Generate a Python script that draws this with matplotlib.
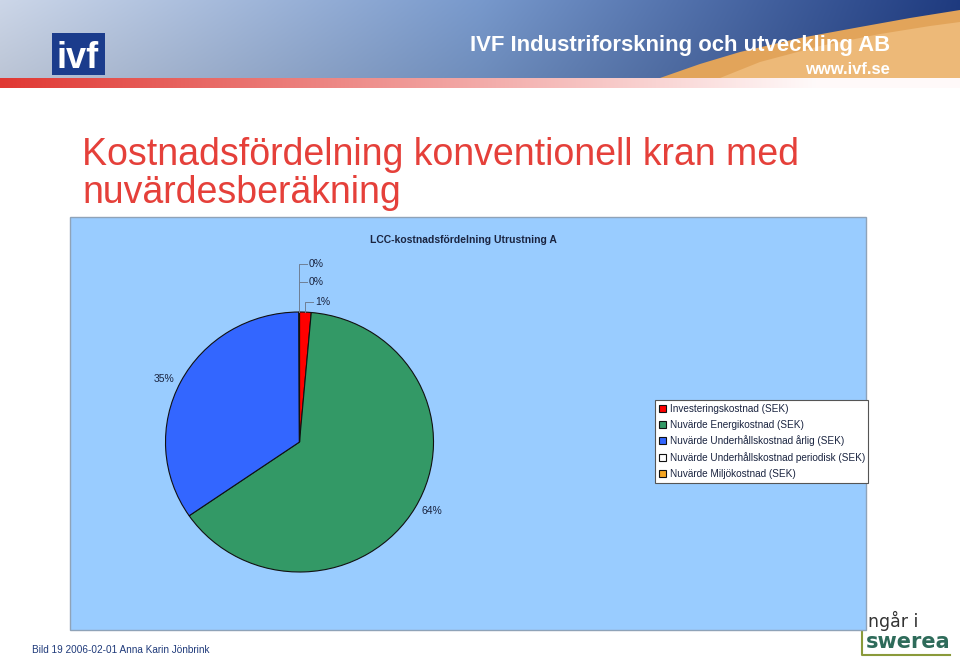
import numpy as np
import matplotlib
matplotlib.use('Agg')
import matplotlib.pyplot as plt
from matplotlib.patches import Rectangle, Polygon

plt.rcParams['font.family'] = ['Liberation Sans', 'DejaVu Sans']

# data
kategorier = ['Investeringskostnad (SEK)',
              'Nuvärde Energikostnad (SEK)',
              'Nuvärde Underhållskostnad årlig (SEK)',
              'Nuvärde Underhållskostnad periodisk (SEK)',
              'Nuvärde Miljökostnad (SEK)']
andel = [1.4, 64.0, 34.55, 0.03, 0.02]
farger = ['#FF0000', '#339966', '#3366FF', '#FFFFFF', '#F5A623']
diagram_titel = 'LCC-kostnadsfördelning Utrustning A'
rubrik = ['Kostnadsfördelning konventionell kran med', 'nuvärdesberäkning']
fot = 'Bild 19 2006-02-01 Anna Karin Jönbrink'

fig = plt.figure(figsize=(9.6, 6.59), dpi=100)
fig.patch.set_facecolor('white')

# bakgrund i pixelkoordinater
bg = fig.add_axes([0, 0, 1, 1])
bg.axis('off')

# header med gradient
xx = np.linspace(0, 1, 960)
yy = np.linspace(0, 1, 78)[:, None]
c_left = np.array([0.80, 0.84, 0.91])
c_mid = np.array([0.47, 0.60, 0.80])
c_right = np.array([0.12, 0.23, 0.50])
t = xx[None, :, None]
img = np.where(t < 0.5, c_left + (c_mid - c_left) * (t / 0.5),
               c_mid + (c_right - c_mid) * ((t - 0.5) / 0.5))
img = img * (1.0 - 0.08 * yy[:, :, None]) + np.zeros((78, 960, 3))
bg.imshow(np.clip(img, 0, 1), extent=(0, 960, 78, 0), aspect='auto', zorder=0)

# orange form uppe till höger
kx = np.array([660, 700, 740, 800, 860, 910, 960, 960])
ky = np.array([78, 64, 52, 38, 27, 18, 10, 78])
bg.add_patch(Polygon(np.column_stack([kx, ky]), closed=True, fc='#E2A45A', ec='none', zorder=1))
kx2 = np.array([720, 760, 820, 880, 930, 960, 960])
ky2 = np.array([78, 62, 46, 34, 26, 22, 78])
bg.add_patch(Polygon(np.column_stack([kx2, ky2]), closed=True, fc='#EDB978', ec='none', zorder=1))

# röd list
rx = np.linspace(0, 1, 960)
r_img = np.ones((10, 960, 3))
fade = np.clip(rx / 0.85, 0, 1)[None, :]
r_img[:, :, 0] = 0.88 + 0.12 * fade
r_img[:, :, 1] = 0.22 + 0.76 * fade
r_img[:, :, 2] = 0.20 + 0.78 * fade
bg.imshow(r_img, extent=(0, 960, 88, 78), aspect='auto', zorder=1)

# ivf-logo
bg.add_patch(Rectangle((52, 33), 53, 42, fc='#1B3C8C', ec='none', zorder=2))
bg.text(78, 58, 'ivf', color='white', fontsize=26, fontweight='bold', ha='center', va='center',
        family=['Liberation Sans Narrow', 'Liberation Sans'], zorder=3)

bg.text(890, 45, 'IVF Industriforskning och utveckling AB', color='white', fontsize=15.9,
        fontweight='bold', ha='right', va='center',
        family=['Liberation Sans Narrow', 'Liberation Sans'], zorder=3)
bg.text(890, 69, 'www.ivf.se', color='white', fontsize=12, fontweight='bold', ha='right', va='center',
        family=['Liberation Sans Narrow', 'Liberation Sans'], zorder=3)

# rubrik
bg.text(82, 155, rubrik[0], color='#E5403A', fontsize=27, ha='left', va='center')
bg.text(82, 193, rubrik[1], color='#E5403A', fontsize=27, ha='left', va='center')

# swerea
bg.text(868, 621, 'ngår i', color='#333333', fontsize=12.5, ha='left', va='center',
        family=['DejaVu Sans'])
bg.text(866, 642, 'swerea', color='#2E6B5A', fontsize=15, fontweight='bold', ha='left', va='center',
        family=['DejaVu Sans'])
bg.plot([862, 862, 950], [628, 655, 655], color='#8A9A3A', lw=1.5)

# diagramyta
bg.add_patch(Rectangle((70, 217), 796, 413, fc='#99CCFF', ec='#8FA3B8', lw=1, zorder=4))
bg.text(463, 240, diagram_titel, fontsize=7.5, fontweight='bold', color='#1A2440',
        ha='center', va='center', zorder=5)

bg.text(32, 650, fot, color='#1F3A7A', fontsize=7.2, ha='left', va='center')

bg.set_xlim(0, 960)
bg.set_ylim(659, 0)

# cirkeldiagram
cx, cy, rx_, ry_ = 299.5, 442, 134, 130
ax = fig.add_axes([(cx - rx_) / 960, (659 - cy - ry_) / 659, 2 * rx_ / 960, 2 * ry_ / 659])
ax.set_zorder(5)
wedges, _ = ax.pie(andel, colors=farger, startangle=90, counterclock=False,
                   wedgeprops=dict(edgecolor='#111111', linewidth=0.8))
ax.set_aspect('auto')
ax.set_xlim(-1, 1)
ax.set_ylim(-1, 1)

total = sum(andel)
sma_y = [1.08, 1.23, 1.37]
k = 0
for w, v in zip(wedges, andel):
    pct = '%d%%' % round(v / total * 100)
    mid = np.deg2rad((w.theta1 + w.theta2) / 2)
    if v / total >= 0.05:
        x, y = 1.05 * np.cos(mid), 1.05 * np.sin(mid)
        ax.text(x, y, pct, ha='right' if x < 0 else 'left', va='center', fontsize=7.5,
                color='#1A2440', clip_on=False)
    else:
        xa = np.cos(mid)
        ya = sma_y[k]
        k += 1
        ax.plot([xa, xa, xa + 0.06], [np.sin(mid), ya, ya], color='#6F7F95', lw=0.7, clip_on=False)
        ax.text(xa + 0.07, ya, pct, ha='left', va='center', fontsize=7.5, color='#1A2440', clip_on=False)

leg = ax.legend(wedges, kategorier, loc='upper left', bbox_to_anchor=(655 / 960, 1 - 400 / 659),
                bbox_transform=fig.transFigure, fontsize=7.2, frameon=True, fancybox=False,
                framealpha=1, edgecolor='#555555', borderaxespad=0, borderpad=0.35,
                handlelength=0.7, handleheight=0.7, handletextpad=0.4, labelspacing=0.6)
leg.get_frame().set_linewidth(0.8)
for txt in leg.get_texts():
    txt.set_color('#1A2440')

fig.savefig('out.png', dpi=100)
